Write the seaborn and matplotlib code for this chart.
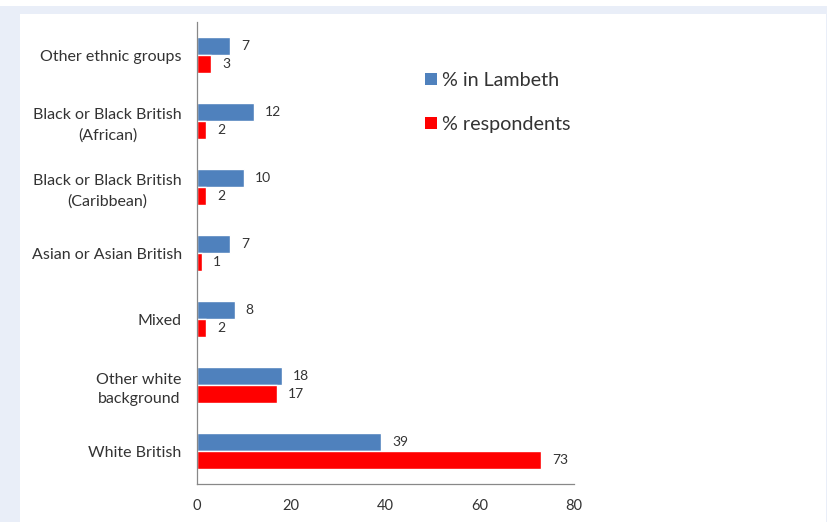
import matplotlib
matplotlib.use("Agg")
import matplotlib.pyplot as plt
import matplotlib.patches as mpatches
import seaborn as sns
import pandas as pd
import numpy as np

categories = ["Other ethnic groups", "Black or Black British\n(African)",
              "Black or Black British\n(Caribbean)", "Asian or Asian British",
              "Mixed", "Other white\nbackground", "White British"]
lambeth = [7, 12, 10, 7, 8, 18, 39]
respondents = [3, 2, 2, 1, 2, 17, 73]
series_names = ["% in Lambeth", "% respondents"]
colors = ["#4F81BD", "#FF0000"]
x_ticks = [0, 20, 40, 60, 80]

df = pd.DataFrame({
    "category": categories * 2,
    "value": lambeth + respondents,
    "series": [series_names[0]] * len(categories) + [series_names[1]] * len(categories),
})

sns.set_style("white")
plt.rcParams["font.family"] = ["Lato", "DejaVu Sans"]

fig = plt.figure(figsize=(8.28, 5.22), dpi=100)
fig.patch.set_facecolor("#e9eef8")
fig.patches.append(mpatches.Rectangle((20 / 828, 0), 806 / 828, 508 / 522,
                                      transform=fig.transFigure, facecolor="white",
                                      edgecolor="none", zorder=-1))
fig.patches.append(mpatches.Rectangle((0, 516 / 522), 1, 6 / 522,
                                      transform=fig.transFigure, facecolor="white",
                                      edgecolor="none", zorder=-1))

ax = fig.add_axes([197 / 828, 1 - 484 / 522, (574 - 197) / 828, (484 - 22) / 522])
ax.set_facecolor("none")

sns.barplot(data=df, y="category", x="value", hue="series", order=categories,
            hue_order=series_names, palette=colors, orient="h", width=0.56,
            saturation=1, ax=ax, legend=False)

for cont in ax.containers:
    ax.bar_label(cont, padding=8, fontsize=10, color="#333333")

ax.set_xlim(0, 80)
ax.set_xticks(x_ticks)
ax.set_ylim(6.5, -0.5)
ax.set_xlabel("")
ax.set_ylabel("")

for s in ["top", "right"]:
    ax.spines[s].set_visible(False)
for s in ["left", "bottom"]:
    ax.spines[s].set_color("#888888")
    ax.spines[s].set_linewidth(0.9)

ax.set_yticks(np.arange(-0.5, 7.0, 1.0), minor=True)
ax.tick_params(axis="y", which="major", length=0, pad=11, labelsize=11.5, labelcolor="#333333")
ax.tick_params(axis="y", which="minor", length=5, color="#888888", direction="out")
ax.tick_params(axis="x", which="major", length=5, color="#888888", direction="out",
               pad=6, labelsize=10.5, labelcolor="#333333")
for lab in ax.get_yticklabels():
    lab.set_multialignment("center")
    lab.set_linespacing(1.5)

handles = [mpatches.Patch(facecolor=c, edgecolor="none", label=n)
           for c, n in zip(colors, series_names)]
leg = fig.legend(handles=handles, loc="upper left",
                 bbox_to_anchor=(415 / 828, 1 - 62 / 522), frameon=False,
                 fontsize=14.2, handlelength=0.6, handleheight=0.6,
                 handletextpad=0.25, labelspacing=1.38, borderpad=0)
for t in leg.get_texts():
    t.set_color("#333333")

fig.savefig("out.png", dpi=100, facecolor=fig.get_facecolor())
